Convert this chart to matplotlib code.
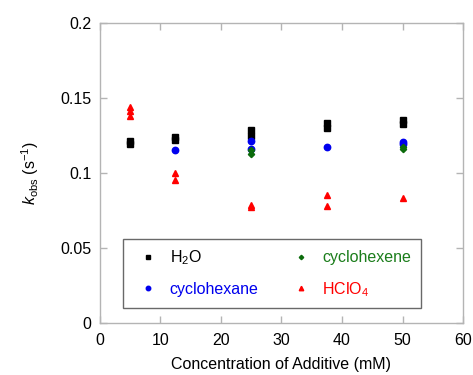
import numpy as np
from matplotlib import pyplot as plt
import matplotlib as mpl

mpl.rcParams['font.family'] = ['Liberation Sans', 'DejaVu Sans']
mpl.rcParams['mathtext.fontset'] = 'custom'
mpl.rcParams['mathtext.rm'] = 'Liberation Sans'
mpl.rcParams['mathtext.it'] = 'Liberation Sans:italic'

# data
h2o_x = [5, 5, 12.5, 12.5, 25, 25, 37.5, 37.5, 50, 50]
h2o_k = [0.119, 0.121, 0.122, 0.124, 0.1285, 0.1245, 0.133, 0.130, 0.135, 0.1325]

hexane_x = [12.5, 25, 25, 37.5, 50, 50]
hexane_k = [0.115, 0.1215, 0.116, 0.117, 0.1205, 0.119]

hexene_x = [25, 25, 50, 50]
hexene_k = [0.1125, 0.115, 0.116, 0.117]

hclo4_x = [5, 5, 5, 12.5, 12.5, 25, 25, 37.5, 37.5, 50]
hclo4_k = [0.144, 0.141, 0.138, 0.100, 0.0955, 0.0785, 0.0775, 0.085, 0.078, 0.083]

grey = '#b4b4b4'
fs = 11.5

fig = plt.figure( figsize=( 4.73, 3.75 ), dpi=100 )
ax = fig.add_axes( [ 0.211, 0.139, 0.768, 0.800 ] )

ax.plot( h2o_x, h2o_k, 's', color='black', markersize=4.2, label='H$_2$O' )
ax.plot( hexane_x, hexane_k, 'o', color='#0000ee', markersize=4.6, label='cyclohexane' )
ax.plot( hexene_x, hexene_k, 'D', color='#0b6b0b', markersize=3.2, label='cyclohexene' )
ax.plot( hclo4_x, hclo4_k, '^', color='#ff0000', markersize=4.6, label='HClO$_4$' )

ax.set_xlim( 0, 60 )
ax.set_ylim( 0, 0.2 )
ax.set_xticks( np.arange( 0, 61, 10 ) )
ax.set_yticks( [ 0, 0.05, 0.1, 0.15, 0.2 ] )
ax.set_yticklabels( [ '0', '0.05', '0.1', '0.15', '0.2' ] )

for s in ax.spines.values():
    s.set_color( grey )
    s.set_linewidth( 1.0 )
ax.tick_params( direction='in', color=grey, length=5, width=1.0,
                top=True, right=True, labelsize=fs, pad=6 )
ax.tick_params( axis='x', pad=7 )

ax.set_xlabel( 'Concentration of Additive (mM)', fontsize=fs, labelpad=7 )
ax.set_ylabel( '$\\mathit{k}_{\\mathrm{obs}}$ (s$^{-1}$)', fontsize=fs, labelpad=14 )

leg = ax.legend( ncol=2, loc='upper left', bbox_to_anchor=( 0.063, 0.28, 0.821, 0.0 ),
                 mode='expand', borderaxespad=0, fontsize=fs, frameon=True, fancybox=False,
                 handlelength=2.0, handletextpad=0.35, columnspacing=1.5,
                 borderpad=0.6, labelspacing=0.9, markerscale=0.7 )
leg.get_frame().set_edgecolor( '#444444' )
leg.get_frame().set_linewidth( 1.0 )
for t, c in zip( leg.get_texts(), [ 'black', '#0000ee', '#1b7d1b', '#ff0000' ] ):
    t.set_color( c )

fig.savefig( 'out.png', dpi=100 )
